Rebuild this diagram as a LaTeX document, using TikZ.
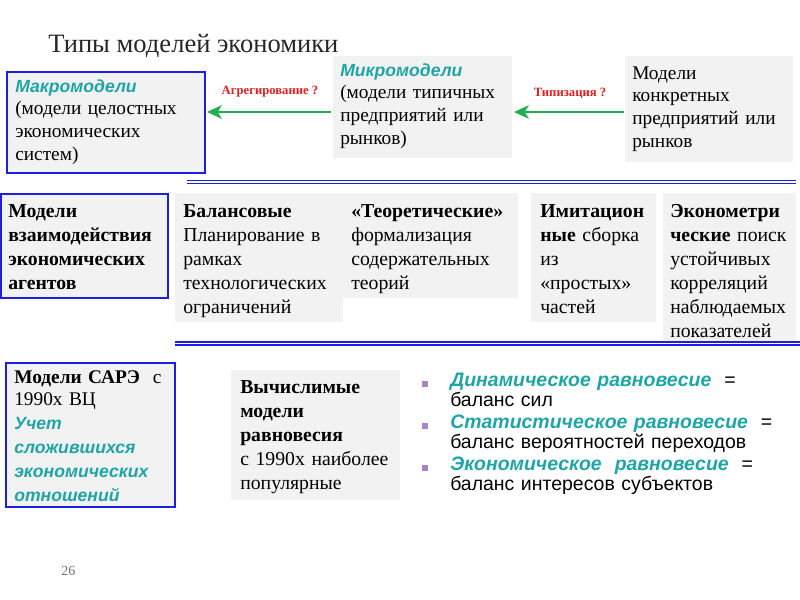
\documentclass[tikz,border=0pt]{standalone}
\usepackage{fontspec}
\setmainfont{Liberation Serif}
\setsansfont{Liberation Sans}
\usetikzlibrary{arrows.meta}
\definecolor{boxgray}{HTML}{F2F2F2}
\definecolor{boxblue}{HTML}{1E1EE0}
\definecolor{teal2}{HTML}{1FA5A5}
\definecolor{arrgreen}{HTML}{1EB050}
\definecolor{lblred}{HTML}{E01E1E}
\definecolor{bulletpurple}{HTML}{A585CC}
\newcommand{\tl}[1]{{\sffamily\bfseries\itshape\color{teal2}#1}}
\newcommand{\tls}[1]{{\fontsize{13.2}{17}\selectfont\sffamily\bfseries\itshape\color{teal2}#1}}
\tikzset{
  graybox/.style={fill=boxgray, draw=none},
  bluebox/.style={fill=boxgray, draw=boxblue, line width=1.6pt},
  txt/.style={anchor=base west, inner sep=0pt, align=left, font=\fontsize{14.5}{17}\selectfont},
  txtb/.style={anchor=base west, inner sep=0pt, align=left, font=\fontsize{14.8}{18}\selectfont},
  garrow/.style={draw=arrgreen, line width=2.2pt, -{Stealth[length=11pt,width=10pt,inset=3pt]}},
  lbl/.style={inner sep=0pt, text=lblred, font=\fontsize{9.5}{10}\selectfont\bfseries},
  dline/.style={draw=boxblue, double=white, double distance=1.4pt, line width=1.1pt},
  bul/.style={fill=bulletpurple, draw=none, minimum size=5pt, inner sep=0pt},
  btxt/.style={anchor=base west, inner sep=0pt, align=left, font=\sffamily\fontsize{14.6}{15.7}\selectfont},
}
\begin{document}
\begin{tikzpicture}[x=0.75pt,y=-0.75pt]
\useasboundingbox (0,0) rectangle (800,600);

% title
\node[anchor=base west, inner sep=0pt, font=\fontsize{19.9}{22}\selectfont, text=black!85] (title) at (48,52) {Типы моделей экономики};

% top row boxes
\path[bluebox] (7,72) rectangle (205,173);
\node[txt, text width=185pt] (macro) at (15,92) {\tls{Макромодели}\\(модели целостных\\экономических\\систем)};

\path[graybox] (333,56) rectangle (512,158);
\node[txt, text width=130pt] (micro) at (340,76) {\tls{Микромодели}\\(модели типичных\\предприятий или\\рынков)};

\path[graybox] (625,56) rectangle (793,162);
\node[txt, text width=125pt] (conc) at (632,79) {Модели\\конкретных\\предприятий или\\рынков};

\coordinate (a1s) at (331,112);
\coordinate (a1e) at (207,112);
\coordinate (a2s) at (624,112);
\coordinate (a2e) at (514,112);
\draw[garrow] (a1s) -- (a1e);
\draw[garrow] (a2s) -- (a2e);
\node[lbl] (l1) at (270,92) {Агрегирование ?};
\node[lbl] (l2) at (570,93) {Типизация ?};

% separators
\coordinate (s1a) at (187,182);
\coordinate (s1b) at (796,182);
\coordinate (s2a) at (175,343.5);
\coordinate (s2b) at (800,343.5);

% middle row
\path[bluebox] (1,194) rectangle (168,298);
\node[txtb, text width=125pt] (inter) at (8,217) {\bfseries Модели\\\bfseries взаимодействия\\\bfseries экономических\\\bfseries агентов};

\path[graybox] (175,193) rectangle (343,322);
\node[txtb, text width=125pt] (bal) at (183,217) {\textbf{Балансовые}\\Планирование в\\рамках\\технологических\\ограничений};

\path[graybox] (343,193) rectangle (518,298);
\node[txtb, text width=130pt] (theo) at (351,217) {\textbf{«Теоретические»}\\формализация\\содержательных\\теорий};

\path[graybox] (531,193) rectangle (656,322);
\node[txtb, text width=95pt] (imit) at (540,217) {\textbf{Имитацион}\\\textbf{ные} сборка\\из\\«простых»\\частей};

\path[graybox] (663,193) rectangle (796,345);
\node[txtb, text width=100pt] (econ) at (670,217) {\textbf{Эконометри}\\\textbf{ческие} поиск\\устойчивых\\корреляций\\наблюдаемых\\показателей};

\draw[dline] (s1a) -- (s1b);
\draw[dline] (s2a) -- (s2b);

% bottom row
\path[bluebox] (6,363) rectangle (175,507);
\node[txt, text width=125pt] (sare) at (14,383) {\textbf{Модели САРЭ}\ \ с\\1990х ВЦ\\[1pt]\tls{Учет}\\[1pt]\tls{сложившихся}\\[1pt]\tls{экономических}\\[1pt]\tls{отношений}};

\path[graybox] (231,370) rectangle (400,500);
\node[txtb, text width=125pt] (comp) at (240,393) {\textbf{Вычислимые}\\\textbf{модели}\\\textbf{равновесия}\\с 1990х наиболее\\популярные};

\node[bul] (b1) at (425,384) {};
\node[bul] (b2) at (425,426) {};
\node[bul] (b3) at (425,468) {};
\node[btxt, text width=270pt] (t1) at (450,386) {\tl{Динамическое равновесие}\ \ =\\баланс сил};
\node[btxt, text width=270pt] (t2) at (450,428) {\tl{Статистическое равновесие}\ \ =\\баланс вероятностей переходов};
\node[btxt, text width=270pt] (t3) at (450,470) {\tl{Экономическое\ \ равновесие}\ \ =\\баланс интересов субъектов};

\node[anchor=base west, inner sep=0pt, font=\fontsize{10.5}{12}\selectfont, text=black!55] (pg) at (61,575) {26};
\end{tikzpicture}
\end{document}
